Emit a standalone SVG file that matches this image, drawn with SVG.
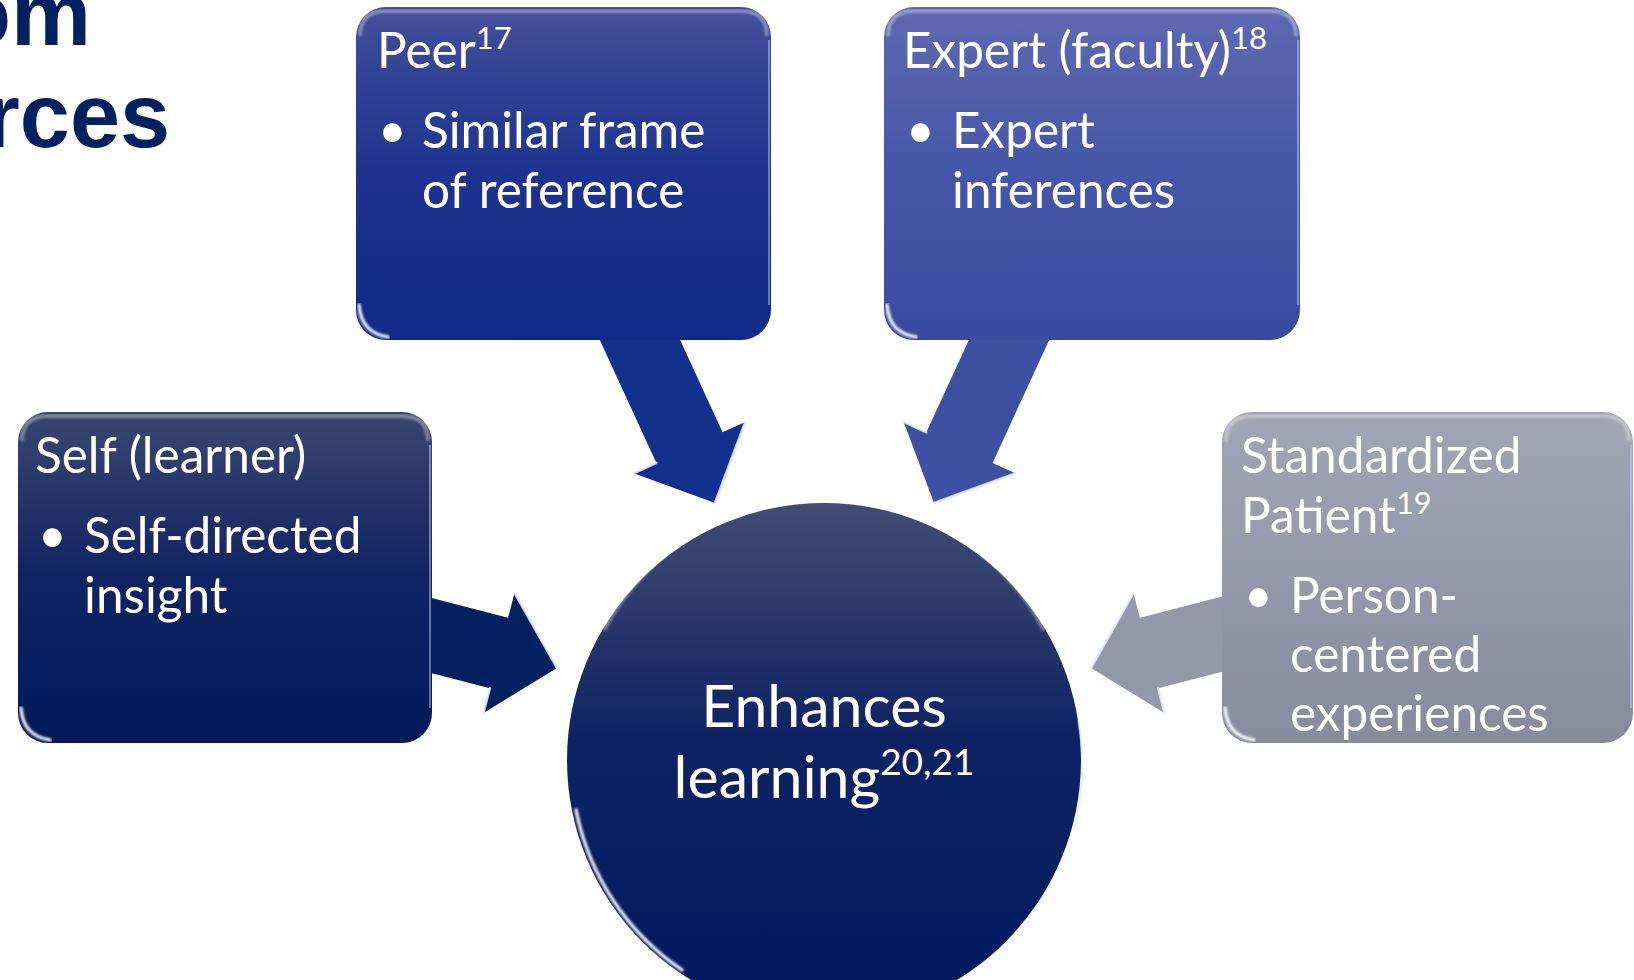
<svg xmlns="http://www.w3.org/2000/svg" width="1634" height="980" viewBox="0 0 1634 980">
  <defs>
    <style>
      .title { font-family: "Liberation Sans", Arial, sans-serif; font-weight: bold; font-size: 90px; fill: #002060; }
      .lbl { font-family: Lato, "Noto Sans", sans-serif; font-size: 49.5px; fill: #ffffff; }
      .sup { font-size: 31px; }
      .center { font-family: Lato, "Noto Sans", sans-serif; font-size: 59px; fill: #ffffff; text-anchor: middle; }
      .csup { font-size: 37px; }
      .gloss { fill: none; stroke: #ffffff; stroke-opacity: 0.35; stroke-width: 4; filter: url(#soft); }
      .rim { fill: none; stroke: #ffffff; stroke-opacity: 0.9; stroke-width: 3.5; stroke-linecap: round; filter: url(#soft); }
      .side { fill: none; stroke: #cfd6ff; stroke-opacity: 0.45; stroke-width: 2; }
      .bevel { fill: none; stroke: #e4ecff; stroke-opacity: 0.85; stroke-width: 2.5; stroke-linecap: round; }
    </style>
    <filter id="soft" x="-5%" y="-5%" width="110%" height="110%">
      <feGaussianBlur stdDeviation="1"/>
    </filter>
    <linearGradient id="peerG" x1="0" y1="0" x2="0" y2="1">
      <stop offset="0" stop-color="#46519b"/>
      <stop offset="0.1" stop-color="#3b4a97"/>
      <stop offset="0.5" stop-color="#1d338f"/>
      <stop offset="1" stop-color="#0f2a88"/>
    </linearGradient>
    <linearGradient id="expertG" x1="0" y1="0" x2="0" y2="1">
      <stop offset="0" stop-color="#5e69b0"/>
      <stop offset="0.5" stop-color="#4657a9"/>
      <stop offset="1" stop-color="#3a4b9f"/>
    </linearGradient>
    <linearGradient id="selfG" x1="0" y1="0" x2="0" y2="1">
      <stop offset="0" stop-color="#3c4670"/>
      <stop offset="0.5" stop-color="#102463"/>
      <stop offset="1" stop-color="#001a5a"/>
    </linearGradient>
    <linearGradient id="spG" x1="0" y1="0" x2="0" y2="1">
      <stop offset="0" stop-color="#a2a5b3"/>
      <stop offset="1" stop-color="#878b9c"/>
    </linearGradient>
    <linearGradient id="circleG" x1="0" y1="0" x2="0" y2="1">
      <stop offset="0" stop-color="#434c73"/>
      <stop offset="0.45" stop-color="#0f2363"/>
      <stop offset="1" stop-color="#001a5e"/>
    </linearGradient>
  </defs>

  <rect width="1634" height="980" fill="#ffffff"/>

  <!-- slide heading, clipped by the left edge -->
  <g id="heading">
    <text class="title" x="91" y="45" text-anchor="end">om</text>
    <text class="title" x="170" y="147" text-anchor="end">rces</text>
  </g>

  <!-- block arrows pointing into the centre circle -->
  <g id="connectors">
    <g id="arrow-peer">
      <polygon fill="#14308d" points="593.7,326.7 656.4,462.9 633.7,473.3 715,503 745.3,421.9 722.6,432.3 659.9,296.1"/>
      <polyline class="bevel" points="745.3,421.9 715,503"/>
      <polyline class="bevel" points="633.7,473.3 656.4,462.9"/>
    </g>
    <g id="arrow-expert">
      <polygon fill="#3d50a2" points="1055.3,326.7 992.6,462.9 1015.3,473.3 934,503 903.7,421.9 926.4,432.3 989.1,296.1"/>
      <polyline class="bevel" points="1015.3,473.3 934,503"/>
      <polyline class="bevel" points="903.7,421.9 926.4,432.3"/>
    </g>
    <g id="arrow-self">
      <polygon fill="#03205f" points="391.9,587.7 508.1,617.7 514.5,593 557,668 483.5,713 489.9,688.3 373.7,658.3"/>
      <polyline class="bevel" points="514.5,593 557,668"/>
      <polyline class="bevel" points="483.5,713 489.9,688.3"/>
    </g>
    <g id="arrow-sp">
      <polygon fill="#9397a7" points="1256.1,587.7 1139.9,617.7 1133.5,593 1091,668 1164.5,713 1158.1,688.3 1274.3,658.3"/>
      <polyline class="bevel" points="1133.5,593 1091,668"/>
      <polyline class="bevel" points="1164.5,713 1158.1,688.3"/>
    </g>
  </g>

  <g id="node-peer">
    <rect x="356" y="7" width="415" height="333" rx="30" fill="url(#peerG)"/>
    <path class="gloss" d="M360,36 Q360,11 386,11 H741 Q767,11 767,36"/>
    <path class="rim" d="M359,305 Q361,333 388,337"/>
    <line class="side" x1="769" y1="40" x2="769" y2="305"/>
    <text class="lbl" x="377" y="68">Peer<tspan class="sup" dy="-19">17</tspan></text>
    <text class="lbl" x="378" y="148">•</text>
    <text class="lbl" x="422" y="148">Similar frame</text>
    <text class="lbl" x="422" y="208">of reference</text>
  </g>

  <g id="node-expert">
    <rect x="884" y="7" width="416" height="333" rx="30" fill="url(#expertG)"/>
    <path class="gloss" d="M888,36 Q888,11 914,11 H1270 Q1296,11 1296,36"/>
    <path class="rim" d="M887,305 Q889,333 916,337"/>
    <line class="side" x1="1298" y1="40" x2="1298" y2="305"/>
    <text class="lbl" x="903" y="68">Expert (faculty)<tspan class="sup" dy="-19">18</tspan></text>
    <text class="lbl" x="906" y="148">•</text>
    <text class="lbl" x="952" y="148">Expert</text>
    <text class="lbl" x="952" y="208">inferences</text>
  </g>

  <g id="node-self">
    <rect x="18" y="412" width="414" height="331" rx="30" fill="url(#selfG)"/>
    <path class="gloss" d="M22,441 Q22,416 48,416 H402 Q428,416 428,441"/>
    <path class="rim" d="M21,708 Q23,736 50,740"/>
    <line class="side" x1="430" y1="445" x2="430" y2="708"/>
    <text class="lbl" x="35" y="473">Self (learner)</text>
    <text class="lbl" x="38" y="553">•</text>
    <text class="lbl" x="84" y="553">Self-directed</text>
    <text class="lbl" x="84" y="613">insight</text>
  </g>

  <g id="node-sp">
    <rect x="1222" y="412" width="411" height="331" rx="30" fill="url(#spG)"/>
    <path class="gloss" d="M1226,441 Q1226,416 1252,416 H1603 Q1629,416 1629,441"/>
    <path class="rim" d="M1225,708 Q1227,736 1254,740"/>
    <line class="side" x1="1631" y1="445" x2="1631" y2="708"/>
    <text class="lbl" x="1241" y="473">Standardized</text>
    <text class="lbl" x="1241" y="533">Patient<tspan class="sup" dy="-19">19</tspan></text>
    <text class="lbl" x="1244" y="613">•</text>
    <text class="lbl" x="1290" y="613">Person-</text>
    <text class="lbl" x="1290" y="672">centered</text>
    <text class="lbl" x="1290" y="731">experiences</text>
  </g>

  <g id="node-center">
    <circle cx="824" cy="760" r="257" fill="url(#circleG)"/>
    <path class="gloss" d="M604,630 A249,249 0 0 1 1044,630"/>
    <path class="rim" d="M576,810 A253,253 0 0 0 682,970"/>
    <path class="side" d="M1078,720 A256,256 0 0 1 1074,830"/>
    <text class="center" x="824" y="727">Enhances</text>
    <text class="center" x="824" y="798">learning<tspan class="csup" dy="-23">20,21</tspan></text>
  </g>
</svg>
